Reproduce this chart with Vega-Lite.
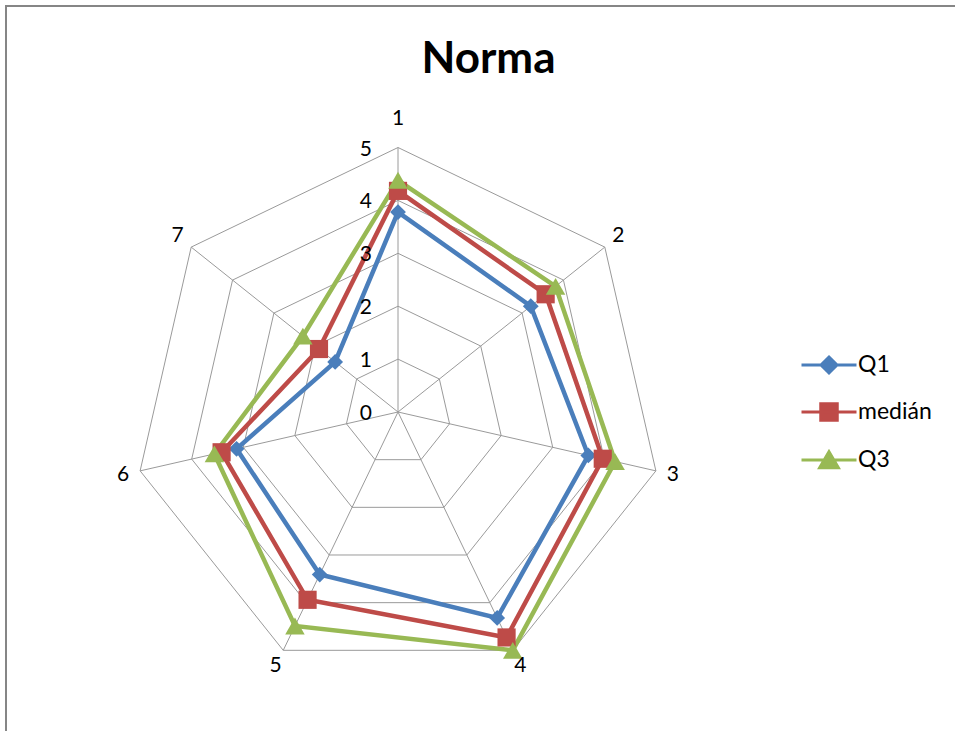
{
  "$schema": "https://vega.github.io/schema/vega-lite/v6.json",
  "width": 959,
  "height": 735,
  "autosize": "none",
  "padding": {"left": 6, "top": 6, "right": -10, "bottom": -10},
  "background": "white",
  "config": {
    "view": {"stroke": "#868686", "strokeWidth": 2},
    "font": "Lato"
  },
  "title": {
    "text": "Norma",
    "font": "Lato",
    "fontSize": 44,
    "fontWeight": "bold",
    "color": "#000000",
    "anchor": "middle",
    "dx": 3,
    "dy": 80
  },
  "datasets": {
    "series": [
      {"series": "Q1", "axis": 1, "value": 3.78},
      {"series": "Q1", "axis": 2, "value": 3.21},
      {"series": "Q1", "axis": 3, "value": 3.69},
      {"series": "Q1", "axis": 4, "value": 4.32},
      {"series": "Q1", "axis": 5, "value": 3.41},
      {"series": "Q1", "axis": 6, "value": 3.13},
      {"series": "Q1", "axis": 7, "value": 1.52},
      {"series": "medián", "axis": 1, "value": 4.18},
      {"series": "medián", "axis": 2, "value": 3.57},
      {"series": "medián", "axis": 3, "value": 3.97},
      {"series": "medián", "axis": 4, "value": 4.73},
      {"series": "medián", "axis": 5, "value": 3.94},
      {"series": "medián", "axis": 6, "value": 3.42},
      {"series": "medián", "axis": 7, "value": 1.91},
      {"series": "Q3", "axis": 1, "value": 4.38},
      {"series": "Q3", "axis": 2, "value": 3.81},
      {"series": "Q3", "axis": 3, "value": 4.21},
      {"series": "Q3", "axis": 4, "value": 5.0},
      {"series": "Q3", "axis": 5, "value": 4.49},
      {"series": "Q3", "axis": 6, "value": 3.56},
      {"series": "Q3", "axis": 7, "value": 2.3}
    ],
    "grid": [
      {"level": 1, "axis": [1, 2, 3, 4, 5, 6, 7]},
      {"level": 2, "axis": [1, 2, 3, 4, 5, 6, 7]},
      {"level": 3, "axis": [1, 2, 3, 4, 5, 6, 7]},
      {"level": 4, "axis": [1, 2, 3, 4, 5, 6, 7]},
      {"level": 5, "axis": [1, 2, 3, 4, 5, 6, 7]}
    ],
    "axes": [
      {"axis": 1, "label": "1"},
      {"axis": 2, "label": "2"},
      {"axis": 3, "label": "3"},
      {"axis": 4, "label": "4"},
      {"axis": 5, "label": "5"},
      {"axis": 6, "label": "6"},
      {"axis": 7, "label": "7"}
    ],
    "levels": [
      {"level": 0, "axis": 1},
      {"level": 1, "axis": 1},
      {"level": 2, "axis": 1},
      {"level": 3, "axis": 1},
      {"level": 4, "axis": 1},
      {"level": 5, "axis": 1}
    ]
  },
  "layer": [
    {
      "data": {"name": "grid"},
      "transform": [
        {"flatten": ["axis"]},
        {"calculate": "(datum.axis - 1) * 2 * PI / 7", "as": "theta"},
        {"calculate": "datum.level * sin(datum.theta)", "as": "x"},
        {"calculate": "datum.level * cos(datum.theta)", "as": "y"}
      ],
      "mark": {"type": "line", "interpolate": "linear-closed", "stroke": "#9a9a9a", "strokeWidth": 1},
      "encoding": {
        "x": {"field": "x", "type": "quantitative", "scale": {"domain": [-7.41, 10.718], "nice": false, "zero": false}, "axis": null},
        "y": {"field": "y", "type": "quantitative", "scale": {"domain": [-6.219, 7.675], "nice": false, "zero": false}, "axis": null},
        "detail": {"field": "level", "type": "nominal"},
        "order": {"field": "axis", "type": "quantitative"}
      }
    },
    {
      "data": {"name": "axes"},
      "transform": [
        {"calculate": "(datum.axis - 1) * 2 * PI / 7", "as": "theta"},
        {"calculate": "5 * sin(datum.theta)", "as": "x"},
        {"calculate": "5 * cos(datum.theta)", "as": "y"}
      ],
      "mark": {"type": "rule", "stroke": "#9a9a9a", "strokeWidth": 1},
      "encoding": {
        "x": {"field": "x", "type": "quantitative", "scale": {"domain": [-7.41, 10.718], "nice": false, "zero": false}, "axis": null},
        "y": {"field": "y", "type": "quantitative", "scale": {"domain": [-6.219, 7.675], "nice": false, "zero": false}, "axis": null},
        "x2": {"datum": 0},
        "y2": {"datum": 0}
      }
    },
    {
      "data": {"name": "series"},
      "transform": [
        {"calculate": "(datum.axis - 1) * 2 * PI / 7", "as": "theta"},
        {"calculate": "datum.value * sin(datum.theta)", "as": "x"},
        {"calculate": "datum.value * cos(datum.theta)", "as": "y"}
      ],
      "mark": {"type": "line", "interpolate": "linear-closed", "strokeWidth": 4.5},
      "encoding": {
        "x": {"field": "x", "type": "quantitative", "scale": {"domain": [-7.41, 10.718], "nice": false, "zero": false}, "axis": null},
        "y": {"field": "y", "type": "quantitative", "scale": {"domain": [-6.219, 7.675], "nice": false, "zero": false}, "axis": null},
        "order": {"field": "axis", "type": "quantitative"},
        "color": {
          "field": "series",
          "type": "nominal",
          "scale": {"domain": ["Q1", "medián", "Q3"], "range": ["#4A7EBB", "#BE4B48", "#98B954"]},
          "legend": {
            "title": null,
            "orient": "none",
            "legendX": 794,
            "legendY": 330,
            "padding": 0,
            "symbolSize": 3025,
            "symbolStrokeWidth": 3,
            "labelFont": "Lato",
            "labelFontSize": 23,
            "labelColor": "#000000",
            "labelOffset": 0,
            "rowPadding": 4,
            "encode": {
              "symbols": {
                "update": {
                  "shape": {"signal": "datum.value === 'Q1' ? 'M-1,0H1M0,-0.29L0.29,0L0,0.29L-0.29,0Z' : datum.value === 'medián' ? 'M-1,0H1M-0.3,-0.3H0.3V0.3H-0.3Z' : 'M-1,0H1M0,-0.3L0.34,0.28H-0.34Z'"},
                  "fill": {"signal": "scale('color', datum.value)"},
                  "stroke": {"signal": "scale('color', datum.value)"},
                  "strokeWidth": {"value": 3},
                  "opacity": {"value": 1},
                  "fillOpacity": {"value": 1}
                }
              }
            }
          }
        }
      }
    },
    {
      "data": {"name": "series"},
      "transform": [
        {"filter": "datum.series === 'Q1'"},
        {"calculate": "(datum.axis - 1) * 2 * PI / 7", "as": "theta"},
        {"calculate": "datum.value * sin(datum.theta)", "as": "x"},
        {"calculate": "datum.value * cos(datum.theta)", "as": "y"}
      ],
      "mark": {"type": "point", "filled": true, "opacity": 1, "shape": "diamond", "size": 250},
      "encoding": {
        "x": {"field": "x", "type": "quantitative", "scale": {"domain": [-7.41, 10.718], "nice": false, "zero": false}, "axis": null},
        "y": {"field": "y", "type": "quantitative", "scale": {"domain": [-6.219, 7.675], "nice": false, "zero": false}, "axis": null},
        "color": {"field": "series", "type": "nominal", "scale": {"domain": ["Q1", "medián", "Q3"], "range": ["#4A7EBB", "#BE4B48", "#98B954"]}}
      }
    },
    {
      "data": {"name": "series"},
      "transform": [
        {"filter": "datum.series === 'medián'"},
        {"calculate": "(datum.axis - 1) * 2 * PI / 7", "as": "theta"},
        {"calculate": "datum.value * sin(datum.theta)", "as": "x"},
        {"calculate": "datum.value * cos(datum.theta)", "as": "y"}
      ],
      "mark": {"type": "point", "filled": true, "opacity": 1, "shape": "square", "size": 330},
      "encoding": {
        "x": {"field": "x", "type": "quantitative", "scale": {"domain": [-7.41, 10.718], "nice": false, "zero": false}, "axis": null},
        "y": {"field": "y", "type": "quantitative", "scale": {"domain": [-6.219, 7.675], "nice": false, "zero": false}, "axis": null},
        "color": {"field": "series", "type": "nominal", "scale": {"domain": ["Q1", "medián", "Q3"], "range": ["#4A7EBB", "#BE4B48", "#98B954"]}}
      }
    },
    {
      "data": {"name": "series"},
      "transform": [
        {"filter": "datum.series === 'Q3'"},
        {"calculate": "(datum.axis - 1) * 2 * PI / 7", "as": "theta"},
        {"calculate": "datum.value * sin(datum.theta)", "as": "x"},
        {"calculate": "datum.value * cos(datum.theta)", "as": "y"}
      ],
      "mark": {"type": "point", "filled": true, "opacity": 1, "shape": "triangle-up", "size": 380},
      "encoding": {
        "x": {"field": "x", "type": "quantitative", "scale": {"domain": [-7.41, 10.718], "nice": false, "zero": false}, "axis": null},
        "y": {"field": "y", "type": "quantitative", "scale": {"domain": [-6.219, 7.675], "nice": false, "zero": false}, "axis": null},
        "color": {"field": "series", "type": "nominal", "scale": {"domain": ["Q1", "medián", "Q3"], "range": ["#4A7EBB", "#BE4B48", "#98B954"]}}
      }
    },
    {
      "data": {"name": "axes"},
      "transform": [
        {"calculate": "(datum.axis - 1) * 2 * PI / 7", "as": "theta"},
        {"calculate": "datum.axis == 1 ? 5.54 : 5.33", "as": "lr"},
        {"calculate": "datum.lr * sin(datum.theta)", "as": "x"},
        {"calculate": "datum.lr * cos(datum.theta)", "as": "y"}
      ],
      "mark": {"type": "text", "font": "Lato", "fontSize": 21, "color": "#000000", "align": "center", "baseline": "middle"},
      "encoding": {
        "x": {"field": "x", "type": "quantitative", "scale": {"domain": [-7.41, 10.718], "nice": false, "zero": false}, "axis": null},
        "y": {"field": "y", "type": "quantitative", "scale": {"domain": [-6.219, 7.675], "nice": false, "zero": false}, "axis": null},
        "text": {"field": "label", "type": "nominal"}
      }
    },
    {
      "data": {"name": "levels"},
      "transform": [
        {"calculate": "(datum.axis - 1) * 2 * PI / 7", "as": "theta"},
        {"calculate": "datum.level * sin(datum.theta)", "as": "x"},
        {"calculate": "datum.level * cos(datum.theta)", "as": "y"}
      ],
      "mark": {"type": "text", "font": "Lato", "fontSize": 21, "color": "#000000", "align": "right", "baseline": "middle", "dx": -26, "dy": 2},
      "encoding": {
        "x": {"field": "x", "type": "quantitative", "scale": {"domain": [-7.41, 10.718], "nice": false, "zero": false}, "axis": null},
        "y": {"field": "y", "type": "quantitative", "scale": {"domain": [-6.219, 7.675], "nice": false, "zero": false}, "axis": null},
        "text": {"field": "level", "type": "quantitative"}
      }
    }
  ]
}
